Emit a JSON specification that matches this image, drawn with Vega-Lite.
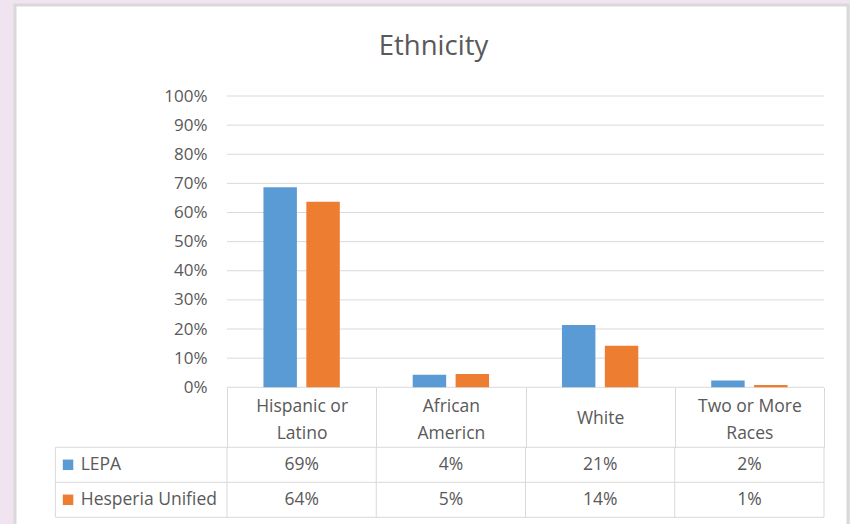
{
  "$schema": "https://vega.github.io/schema/vega-lite/v6.json",
  "width": 850,
  "height": 524,
  "autosize": {"type": "fit", "contains": "padding"},
  "padding": {"left": 15, "top": 5, "right": 2, "bottom": -3},
  "background": "#f1e4f1",
  "title": {
    "text": "Ethnicity",
    "font": "Open Sans",
    "fontSize": 27.5,
    "fontWeight": "normal",
    "color": "#595959",
    "anchor": "middle",
    "frame": "group",
    "baseline": "alphabetic",
    "offset": -77.5,
    "dx": 2
  },
  "config": {
    "view": {"fill": "white", "stroke": "#d9d9d9", "strokeWidth": 3},
    "font": "Open Sans"
  },
  "datasets": {
    "eth": [
      {"category": "Hispanic or Latino", "series": "LEPA", "value": 0.687},
      {"category": "Hispanic or Latino", "series": "Hesperia Unified", "value": 0.637},
      {"category": "African Americn", "series": "LEPA", "value": 0.043},
      {"category": "African Americn", "series": "Hesperia Unified", "value": 0.046},
      {"category": "White", "series": "LEPA", "value": 0.214},
      {"category": "White", "series": "Hesperia Unified", "value": 0.143},
      {"category": "Two or More Races", "series": "LEPA", "value": 0.023},
      {"category": "Two or More Races", "series": "Hesperia Unified", "value": 0.008}
    ],
    "ticks": [
      {"v": 0}, {"v": 0.1}, {"v": 0.2}, {"v": 0.3}, {"v": 0.4}, {"v": 0.5},
      {"v": 0.6}, {"v": 0.7}, {"v": 0.8}, {"v": 0.9}, {"v": 1}
    ],
    "one": [{}]
  },
  "resolve": {"scale": {"y": "independent"}},
  "layer": [
    {
      "layer": [
        {
          "data": {"name": "ticks"},
          "mark": {"type": "rule", "color": "#d9d9d9", "strokeWidth": 1},
          "encoding": {
            "y": {
              "field": "v",
              "type": "quantitative",
              "title": null,
              "scale": {"domain": [0, 1], "range": [382.3, 91], "nice": false, "zero": false},
              "axis": {
                "values": [0, 0.1, 0.2, 0.3, 0.4, 0.5, 0.6, 0.7, 0.8, 0.9, 1],
                "format": ".0%",
                "grid": false,
                "ticks": false,
                "domain": false,
                "labelFont": "Open Sans",
                "labelFontSize": 17,
                "labelColor": "#595959",
                "labelPadding": 0,
                "offset": -192,
                "title": null
              }
            },
            "x": {
              "datum": "Hispanic or Latino",
              "type": "nominal",
              "bandPosition": 0,
              "title": null,
              "scale": {
                "type": "band",
                "domain": ["Hispanic or Latino", "African Americn", "White", "Two or More Races"],
                "range": [212, 809],
                "paddingInner": 0,
                "paddingOuter": 0
              }
            },
            "x2": {"datum": "Two or More Races", "bandPosition": 1}
          }
        },
        {
          "data": {"name": "eth"},
          "mark": {"type": "bar"},
          "encoding": {
            "x": {
              "field": "category",
              "type": "nominal",
              "title": null,
              "scale": {
                "type": "band",
                "domain": ["Hispanic or Latino", "African Americn", "White", "Two or More Races"],
                "range": [212, 809],
                "paddingInner": 0,
                "paddingOuter": 0
              },
              "axis": {
                "orient": "bottom",
                "offset": -139.7,
                "domain": false,
                "grid": false,
                "ticks": true,
                "tickBand": "extent",
                "tickSize": 60,
                "tickColor": "#d9d9d9",
                "tickWidth": 1,
                "labelAlign": "center",
                "labelPadding": {"condition": {"test": "datum.value == 'White'", "value": -28.8}, "value": -40.8},
                "labelBaseline": "middle",
                "labelLineHeight": 27,
                "labelFont": "Open Sans",
                "labelFontSize": 17.5,
                "labelColor": "#595959",
                "labelAngle": 0,
                "labelOverlap": false,
                "labelExpr": "datum.value == 'Hispanic or Latino' ? ['Hispanic or', 'Latino'] : datum.value == 'African Americn' ? ['African', 'Americn'] : datum.value == 'Two or More Races' ? ['Two or More', 'Races'] : datum.label",
                "title": null
              }
            },
            "xOffset": {
              "field": "series",
              "type": "nominal",
              "scale": {"domain": ["LEPA", "Hesperia Unified"], "paddingInner": 0.22, "paddingOuter": 0.85}
            },
            "y": {"field": "value", "type": "quantitative", "title": null},
            "color": {
              "field": "series",
              "type": "nominal",
              "scale": {"domain": ["LEPA", "Hesperia Unified"], "range": ["#5b9bd5", "#ed7d31"]},
              "legend": null
            }
          }
        }
      ]
    },
    {
      "layer": [
        {
          "data": {"name": "eth"},
          "mark": {"type": "text", "font": "Open Sans", "fontSize": 17.5, "color": "#595959", "baseline": "middle"},
          "encoding": {
            "x": {"field": "category", "type": "nominal", "title": null},
            "y": {
              "field": "series",
              "type": "nominal",
              "scale": {"type": "band", "domain": ["LEPA", "Hesperia Unified"], "range": [442.3, 512.3], "paddingInner": 0, "paddingOuter": 0},
              "axis": null
            },
            "text": {"field": "value", "type": "quantitative", "format": ".0%"}
          }
        },
        {
          "data": {"name": "eth"},
          "transform": [{"filter": "datum.category == 'Hispanic or Latino'"}],
          "mark": {"type": "point", "shape": "square", "filled": true, "size": 110, "opacity": 1},
          "encoding": {
            "x": {"datum": "Hispanic or Latino", "type": "nominal", "bandPosition": -1.065},
            "y": {"field": "series", "type": "nominal", "axis": null},
            "color": {"field": "series", "type": "nominal", "legend": null}
          }
        },
        {
          "data": {"name": "eth"},
          "transform": [{"filter": "datum.category == 'Hispanic or Latino'"}],
          "mark": {"type": "text", "font": "Open Sans", "fontSize": 17.5, "color": "#595959", "align": "left", "baseline": "middle"},
          "encoding": {
            "x": {"datum": "Hispanic or Latino", "type": "nominal", "bandPosition": -0.98},
            "y": {"field": "series", "type": "nominal", "axis": null},
            "text": {"field": "series", "type": "nominal"}
          }
        },
        {
          "data": {"name": "eth"},
          "transform": [{"filter": "datum.category == 'Hispanic or Latino'"}],
          "mark": {"type": "rule", "color": "#d9d9d9", "strokeWidth": 1},
          "encoding": {
            "y": {"field": "series", "type": "nominal", "bandPosition": 0, "axis": null},
            "x": {"datum": "Hispanic or Latino", "type": "nominal", "bandPosition": -1.15},
            "x2": {"datum": "Two or More Races", "bandPosition": 1}
          }
        },
        {
          "data": {"name": "one"},
          "mark": {"type": "rule", "color": "#d9d9d9", "strokeWidth": 1},
          "encoding": {
            "y": {"datum": "Hesperia Unified", "type": "nominal", "bandPosition": 1, "axis": null},
            "x": {"datum": "Hispanic or Latino", "type": "nominal", "bandPosition": -1.15},
            "x2": {"datum": "Two or More Races", "bandPosition": 1}
          }
        },
        {
          "data": {"name": "eth"},
          "transform": [{"filter": "datum.series == 'LEPA'"}],
          "mark": {"type": "rule", "color": "#d9d9d9", "strokeWidth": 1},
          "encoding": {
            "x": {"field": "category", "type": "nominal", "bandPosition": 0, "title": null},
            "y": {"datum": "LEPA", "type": "nominal", "bandPosition": 0, "axis": null},
            "y2": {"datum": "Hesperia Unified", "bandPosition": 1}
          }
        },
        {
          "data": {"name": "one"},
          "mark": {"type": "rule", "color": "#d9d9d9", "strokeWidth": 1},
          "encoding": {
            "x": {"datum": "Two or More Races", "type": "nominal", "bandPosition": 1},
            "y": {"datum": "LEPA", "type": "nominal", "bandPosition": 0, "axis": null},
            "y2": {"datum": "Hesperia Unified", "bandPosition": 1}
          }
        },
        {
          "data": {"name": "one"},
          "mark": {"type": "rule", "color": "#d9d9d9", "strokeWidth": 1},
          "encoding": {
            "x": {"datum": "Hispanic or Latino", "type": "nominal", "bandPosition": -1.15},
            "y": {"datum": "LEPA", "type": "nominal", "bandPosition": 0, "axis": null},
            "y2": {"datum": "Hesperia Unified", "bandPosition": 1}
          }
        }
      ]
    }
  ]
}
